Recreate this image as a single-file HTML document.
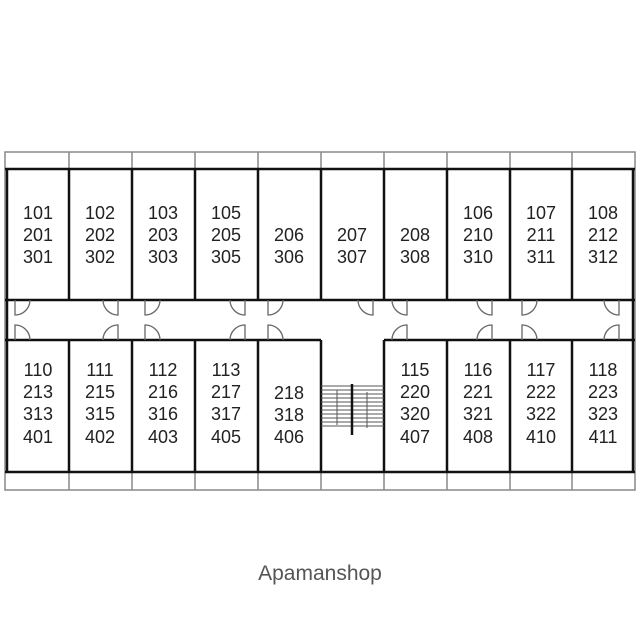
<!DOCTYPE html>
<html><head><style>body{margin:0;background:#fff}svg{display:block}</style></head><body>
<svg width="640" height="640" viewBox="0 0 640 640" xmlns="http://www.w3.org/2000/svg">
<rect width="640" height="640" fill="#fff"/>
<g fill="none" stroke="#888" stroke-width="1.5">
<rect x="5" y="152" width="630" height="338"/>
<line x1="69" y1="152" x2="69" y2="169"/><line x1="132" y1="152" x2="132" y2="169"/><line x1="195" y1="152" x2="195" y2="169"/><line x1="258" y1="152" x2="258" y2="169"/><line x1="321" y1="152" x2="321" y2="169"/><line x1="384" y1="152" x2="384" y2="169"/><line x1="447" y1="152" x2="447" y2="169"/><line x1="510" y1="152" x2="510" y2="169"/><line x1="572" y1="152" x2="572" y2="169"/>
<line x1="69" y1="472" x2="69" y2="490"/><line x1="132" y1="472" x2="132" y2="490"/><line x1="195" y1="472" x2="195" y2="490"/><line x1="258" y1="472" x2="258" y2="490"/><line x1="321" y1="472" x2="321" y2="490"/><line x1="384" y1="472" x2="384" y2="490"/><line x1="447" y1="472" x2="447" y2="490"/><line x1="510" y1="472" x2="510" y2="490"/><line x1="572" y1="472" x2="572" y2="490"/>
</g>
<g fill="none" stroke="#111" stroke-width="2.5">
<line x1="5" y1="169" x2="635" y2="169"/>
<line x1="5" y1="300" x2="635" y2="300"/>
<line x1="5" y1="340" x2="321" y2="340"/>
<line x1="384" y1="340" x2="635" y2="340"/>
<line x1="5" y1="472" x2="635" y2="472"/>
<line x1="7" y1="169" x2="7" y2="472"/>
<line x1="633" y1="169" x2="633" y2="472"/>
<line x1="69" y1="169" x2="69" y2="300"/><line x1="132" y1="169" x2="132" y2="300"/><line x1="195" y1="169" x2="195" y2="300"/><line x1="258" y1="169" x2="258" y2="300"/><line x1="321" y1="169" x2="321" y2="300"/><line x1="384" y1="169" x2="384" y2="300"/><line x1="447" y1="169" x2="447" y2="300"/><line x1="510" y1="169" x2="510" y2="300"/><line x1="572" y1="169" x2="572" y2="300"/>
<line x1="69" y1="340" x2="69" y2="472"/><line x1="132" y1="340" x2="132" y2="472"/><line x1="195" y1="340" x2="195" y2="472"/><line x1="258" y1="340" x2="258" y2="472"/><line x1="321" y1="340" x2="321" y2="472"/><line x1="384" y1="340" x2="384" y2="472"/><line x1="447" y1="340" x2="447" y2="472"/><line x1="510" y1="340" x2="510" y2="472"/><line x1="572" y1="340" x2="572" y2="472"/>
</g>
<g fill="none" stroke="#666" stroke-width="1.3">
<path d="M15 300V315A15 15 0 0 0 30 300"/><path d="M15 340V325A15 15 0 0 1 30 340"/>
<path d="M118 300V315A15 15 0 0 1 103 300"/><path d="M118 340V325A15 15 0 0 0 103 340"/>
<path d="M145 300V315A15 15 0 0 0 160 300"/><path d="M145 340V325A15 15 0 0 1 160 340"/>
<path d="M245 300V315A15 15 0 0 1 230 300"/><path d="M245 340V325A15 15 0 0 0 230 340"/>
<path d="M268 300V315A15 15 0 0 0 283 300"/><path d="M268 340V325A15 15 0 0 1 283 340"/>
<path d="M373 300V315A15 15 0 0 1 358 300"/>
<path d="M407 300V315A15 15 0 0 1 392 300"/><path d="M407 340V325A15 15 0 0 0 392 340"/>
<path d="M492 300V315A15 15 0 0 1 477 300"/><path d="M492 340V325A15 15 0 0 0 477 340"/>
<path d="M522 300V315A15 15 0 0 0 537 300"/><path d="M522 340V325A15 15 0 0 1 537 340"/>
<path d="M619 300V315A15 15 0 0 1 604 300"/><path d="M619 340V325A15 15 0 0 0 604 340"/>
</g>
<g stroke="#555" stroke-width="1">
<line x1="321" y1="386" x2="384" y2="386"/><line x1="321" y1="390" x2="384" y2="390"/><line x1="321" y1="394" x2="384" y2="394"/><line x1="321" y1="398" x2="384" y2="398"/><line x1="321" y1="402" x2="384" y2="402"/><line x1="321" y1="406" x2="384" y2="406"/><line x1="321" y1="410" x2="384" y2="410"/><line x1="321" y1="414" x2="384" y2="414"/><line x1="321" y1="418" x2="384" y2="418"/><line x1="321" y1="422" x2="384" y2="422"/><line x1="321" y1="426" x2="384" y2="426"/>
<line x1="337" y1="390" x2="337" y2="425"/><line x1="367" y1="392" x2="367" y2="428"/>
</g>
<line x1="352" y1="384" x2="352" y2="435" stroke="#111" stroke-width="2.5"/>
<g font-family="Liberation Sans, sans-serif" font-size="18" fill="#222" text-anchor="middle">
<text x="38" y="219">101</text><text x="38" y="241">201</text><text x="38" y="263">301</text>
<text x="100" y="219">102</text><text x="100" y="241">202</text><text x="100" y="263">302</text>
<text x="163" y="219">103</text><text x="163" y="241">203</text><text x="163" y="263">303</text>
<text x="226" y="219">105</text><text x="226" y="241">205</text><text x="226" y="263">305</text>
<text x="289" y="241">206</text><text x="289" y="263">306</text>
<text x="352" y="241">207</text><text x="352" y="263">307</text>
<text x="415" y="241">208</text><text x="415" y="263">308</text>
<text x="478" y="219">106</text><text x="478" y="241">210</text><text x="478" y="263">310</text>
<text x="541" y="219">107</text><text x="541" y="241">211</text><text x="541" y="263">311</text>
<text x="603" y="219">108</text><text x="603" y="241">212</text><text x="603" y="263">312</text>
<text x="38" y="376">110</text><text x="38" y="398">213</text><text x="38" y="420">313</text><text x="38" y="443">401</text>
<text x="100" y="376">111</text><text x="100" y="398">215</text><text x="100" y="420">315</text><text x="100" y="443">402</text>
<text x="163" y="376">112</text><text x="163" y="398">216</text><text x="163" y="420">316</text><text x="163" y="443">403</text>
<text x="226" y="376">113</text><text x="226" y="398">217</text><text x="226" y="420">317</text><text x="226" y="443">405</text>
<text x="289" y="399">218</text><text x="289" y="421">318</text><text x="289" y="443">406</text>
<text x="415" y="376">115</text><text x="415" y="398">220</text><text x="415" y="420">320</text><text x="415" y="443">407</text>
<text x="478" y="376">116</text><text x="478" y="398">221</text><text x="478" y="420">321</text><text x="478" y="443">408</text>
<text x="541" y="376">117</text><text x="541" y="398">222</text><text x="541" y="420">322</text><text x="541" y="443">410</text>
<text x="603" y="376">118</text><text x="603" y="398">223</text><text x="603" y="420">323</text><text x="603" y="443">411</text>
</g>
<text x="320" y="580" font-family="Liberation Sans, sans-serif" font-size="21" fill="#555" text-anchor="middle">Apamanshop</text>
</svg>
</body></html>
